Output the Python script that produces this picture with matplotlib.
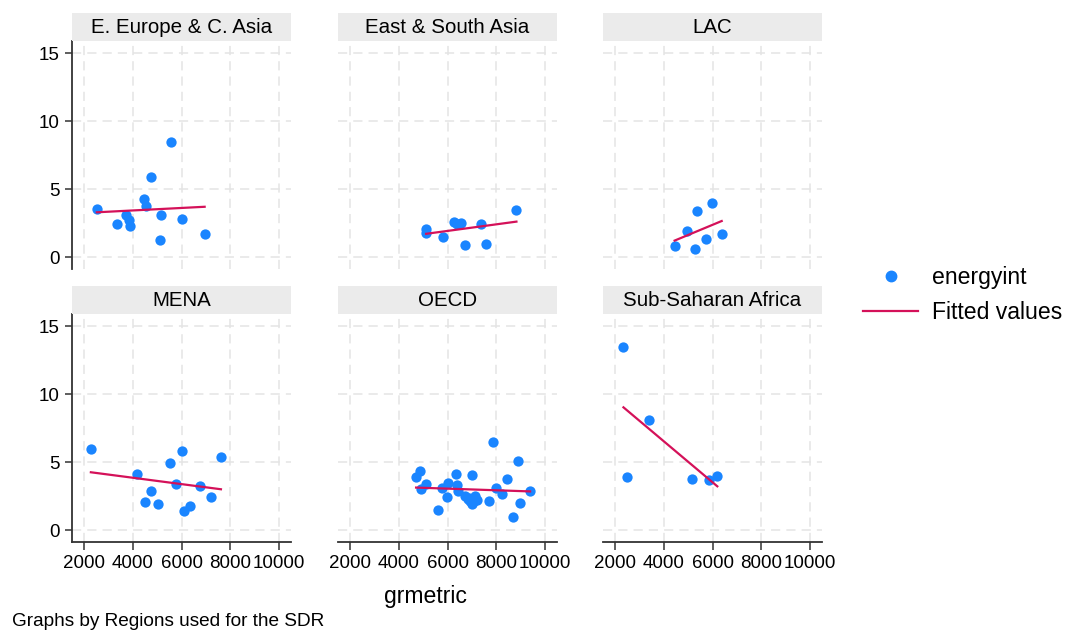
import numpy as np
import matplotlib
matplotlib.use("Agg")
import matplotlib.pyplot as plt
from matplotlib.lines import Line2D

plt.rcParams['font.family'] = ['Liberation Sans', 'DejaVu Sans']

# grmetric (x) and energyint (y) per region
eeca_x = [2521, 3341, 3710, 3833, 3874, 4449, 4557, 4736, 5171, 5131, 5583, 6034, 6951]
eeca_y = [3.54, 2.46, 3.15, 2.75, 2.31, 4.27, 3.75, 5.90, 3.12, 1.27, 8.51, 2.85, 1.71]

esa_x = [5121, 5121, 5822, 6260, 6400, 6536, 6713, 7390, 7596, 8833]
esa_y = [2.12, 1.76, 1.49, 2.61, 2.44, 2.56, 0.92, 2.49, 1.00, 3.48]

lac_x = [4443, 4934, 5286, 5355, 5723, 5969, 6378]
lac_y = [0.85, 1.93, 0.63, 3.39, 1.34, 4.00, 1.71]

mena_x = [2275, 4187, 4736, 4515, 5023, 5528, 5787, 6021, 6090, 6336, 6746, 7223, 7621]
mena_y = [5.99, 4.12, 2.90, 2.06, 1.91, 4.98, 3.43, 5.84, 1.45, 1.82, 3.29, 2.46, 5.37]

oecd_x = [4709, 4858, 4928, 5134, 5601, 5794, 5972, 6012, 6330, 6384, 6412, 6713,
          6825, 6870, 6920, 6990, 7019, 7060, 7126, 7225, 7703, 7868, 7979, 8256,
          8433, 8693, 8915, 8969, 9394]
oecd_y = [3.90, 4.34, 3.07, 3.43, 1.52, 3.13, 2.43, 3.49, 4.15, 3.34, 2.92, 2.55,
          2.31, 2.35, 2.18, 4.10, 1.96, 2.10, 2.50, 2.26, 2.18, 6.52, 3.13, 2.71,
          3.80, 1.01, 5.07, 2.04, 2.92]

ssa_x = [2341, 2505, 3407, 5171, 5856, 6197]
ssa_y = [13.49, 3.90, 8.14, 3.80, 3.71, 4.02]

regions = ['E. Europe & C. Asia', 'East & South Asia', 'LAC',
           'MENA', 'OECD', 'Sub-Saharan Africa']
xs = [eeca_x, esa_x, lac_x, mena_x, oecd_x, ssa_x]
ys = [eeca_y, esa_y, lac_y, mena_y, oecd_y, ssa_y]

xticks = [2000, 4000, 6000, 8000, 10000]
yticks = [0, 5, 10, 15]

BLUE = '#1a85ff'
RED = '#d41159'

W, H = 1067, 633
fig = plt.figure(figsize=(W / 100, H / 100), dpi=100)

def px_axes(left, top, width, height):
    return fig.add_axes([left / W, 1 - (top + height) / H, width / W, height / H])

lefts = [72, 338, 603]
tops = [41, 314]
heads = [13, 286]
pw, ph = 219, 228

for i, name in enumerate(regions):
    r, c = divmod(i, 3)
    ax = px_axes(lefts[c], tops[r], pw, ph)
    hd = px_axes(lefts[c], heads[r], pw, 28)
    hd.set_facecolor('#ebebeb')
    hd.set_xticks([])
    hd.set_yticks([])
    for s in hd.spines.values():
        s.set_visible(False)
    hd.text(0.5, 0.48, name, ha='center', va='center', fontsize=14.8)

    x = np.array(xs[i])
    y = np.array(ys[i])
    ax.scatter(x, y, s=55, color=BLUE, zorder=3, linewidths=0)
    b, a = np.polyfit(x, y, 1)
    fx = np.array([x.min(), x.max()])
    ax.plot(fx, a + b * fx, color=RED, lw=1.6, zorder=4)

    ax.set_xlim(1500, 10500)
    ax.set_ylim(-0.85, 15.9)
    ax.set_xticks(xticks)
    ax.set_yticks(yticks)
    ax.grid(True, color='#e4e4e4', linestyle=(0, (6, 4)), linewidth=1.1)
    ax.set_axisbelow(True)
    for s in ['top', 'right']:
        ax.spines[s].set_visible(False)
    ax.spines['left'].set_visible(c == 0)
    ax.spines['bottom'].set_visible(r == 1)
    for s in ['left', 'bottom']:
        ax.spines[s].set_color('#333333')
        ax.spines[s].set_linewidth(1.3)
    ax.tick_params(axis='y', left=(c == 0), labelleft=(c == 0), length=5,
                   width=1.1, pad=4, labelsize=13.5, color='#333333')
    ax.tick_params(axis='x', bottom=(r == 1), labelbottom=(r == 1), length=6,
                   width=1.1, pad=3, labelsize=13.5, color='#333333')

fig.text(425 / W, 1 - 597 / H, 'grmetric', ha='center', va='center', fontsize=16.6)
fig.text(12 / W, 1 - 622 / H, 'Graphs by Regions used for the SDR',
         ha='left', va='center', fontsize=13.7)

handles = [Line2D([], [], marker='o', linestyle='none', color=BLUE, markersize=7.5),
           Line2D([], [], color=RED, lw=1.6)]
fig.legend(handles, ['energyint', 'Fitted values'], loc='center left',
           bbox_to_anchor=(863 / W, 1 - 295 / H), frameon=False, fontsize=16.6,
           handlelength=2.4, handletextpad=0.6, labelspacing=0.5,
           borderpad=0, borderaxespad=0)

fig.savefig('out.png', dpi=100)
